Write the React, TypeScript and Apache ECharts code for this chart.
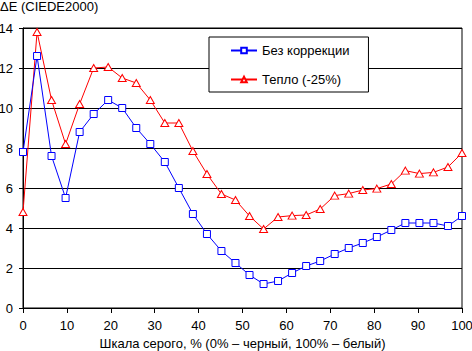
import React, { useEffect, useRef } from "react";
import * as echarts from "echarts";

const grayLevels = [0, 3.2, 6.5, 9.7, 12.9, 16.1, 19.4, 22.6, 25.8, 29.0, 32.3, 35.5, 38.7, 41.9, 45.2, 48.4, 51.6, 54.8, 58.1, 61.3, 64.5, 67.7, 71.0, 74.2, 77.4, 80.6, 83.9, 87.1, 90.3, 93.5, 96.8, 100];
const noCorrection = [7.8, 12.6, 7.6, 5.5, 8.8, 9.7, 10.4, 10.0, 9.0, 8.2, 7.3, 6.0, 4.7, 3.7, 2.85, 2.25, 1.65, 1.2, 1.35, 1.75, 2.1, 2.35, 2.7, 3.0, 3.25, 3.55, 3.9, 4.25, 4.25, 4.25, 4.1, 4.6];
const warm25 = [4.8, 13.8, 10.4, 8.2, 10.2, 12.0, 12.05, 11.5, 11.25, 10.4, 9.25, 9.25, 7.85, 6.7, 5.7, 5.4, 4.6, 3.95, 4.55, 4.62, 4.65, 4.95, 5.62, 5.72, 5.9, 5.97, 6.2, 6.87, 6.72, 6.78, 7.05, 7.75];
const seriesNames = ["Без коррекции", "Тепло (-25%)"];
const titleText = "ΔE (CIEDE2000)";
const xAxisTitle = "Шкала серого, % (0% – черный, 100% – белый)";

const FONT = '"Liberation Sans", Arial, sans-serif';

export default function App() {
  const ref = useRef<HTMLDivElement>(null);
  useEffect(() => {
    if (!ref.current) return;
    const chart = echarts.init(ref.current, undefined, { renderer: "svg" });
    const pair = (ys: number[]) => grayLevels.map((x, i) => [x, ys[i]]);
    chart.setOption({
      animation: false,
      backgroundColor: "#fff",
      textStyle: { fontFamily: FONT, color: "#000" },
      title: {
        text: titleText,
        left: 0,
        top: 0,
        padding: 0,
        textStyle: { fontFamily: FONT, fontSize: 13, fontWeight: "normal", color: "#000" },
      },
      legend: {
        left: 209,
        top: 37,
        orient: "vertical",
        padding: [6, 19, 5, 21],
        itemGap: 14,
        itemWidth: 26,
        itemHeight: 7,
        backgroundColor: "#fff",
        borderColor: "#000",
        borderWidth: 1,
        borderRadius: 0,
        textStyle: { fontFamily: FONT, fontSize: 13, color: "#000", lineHeight: 15 },
        data: seriesNames,
      },
      grid: {
        left: 23,
        right: 10,
        top: 28,
        bottom: 43,
        show: true,
        borderColor: "#000",
        borderWidth: 1,
        backgroundColor: "transparent",
        containLabel: false,
        outerBoundsMode: "none",
      },
      xAxis: {
        type: "value",
        min: 0,
        max: 100,
        interval: 10,
        name: xAxisTitle,
        nameLocation: "middle",
        nameGap: 28,
        nameTextStyle: { fontFamily: FONT, fontSize: 13, color: "#000" },
        axisLine: { show: true, lineStyle: { color: "#000", width: 1 } },
        axisTick: { show: true, length: 5, lineStyle: { color: "#000" } },
        axisLabel: { margin: 11, fontFamily: FONT, fontSize: 13, color: "#000" },
        splitLine: { show: false },
      },
      yAxis: {
        type: "value",
        min: 0,
        max: 14,
        interval: 2,
        axisLine: { show: true, lineStyle: { color: "#000", width: 1 } },
        axisTick: { show: true, length: 4, lineStyle: { color: "#000" } },
        axisLabel: { margin: 10, fontFamily: FONT, fontSize: 13, color: "#000" },
        splitLine: { show: true, lineStyle: { color: "#000", width: 1 } },
      },
      series: [
        {
          name: seriesNames[0],
          type: "line",
          data: pair(noCorrection),
          symbol: "rect",
          symbolSize: 7,
          color: "#0000ff",
          lineStyle: { color: "#0000ff", width: 1 },
          itemStyle: { color: "#fff", borderColor: "#0000ff", borderWidth: 1 },
          z: 3,
        },
        {
          name: seriesNames[1],
          type: "line",
          data: pair(warm25),
          symbol: "triangle",
          symbolSize: [8, 7],
          color: "#ff0000",
          lineStyle: { color: "#ff0000", width: 1 },
          itemStyle: { color: "#fff", borderColor: "#ff0000", borderWidth: 1 },
          z: 2,
        },
      ],
    });
    return () => chart.dispose();
  }, []);
  return (
    <div
      ref={ref}
      style={{ position: "fixed", left: 0, top: 0, width: 472, height: 351 }}
    />
  );
}
